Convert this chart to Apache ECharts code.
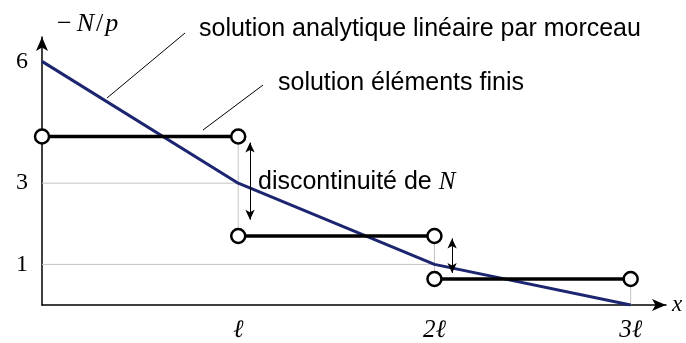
<!DOCTYPE html>
<html>
<head>
<meta charset="utf-8">
<script src="https://cdn.jsdelivr.net/npm/echarts@6/dist/echarts.min.js"></script>
<style>
  html, body { margin: 0; padding: 0; background: #fff; }
  #chart { width: 686px; height: 343px; }
</style>
</head>
<body>
<div id="chart"></div>
<script>
// noeuds des elements, en multiples de l
const xNodes = [0, 1, 2, 3]
// solution analytique lineaire par morceau (-N/p aux noeuds)
const analytic = [6, 3, 1, 0]
// solution elements finis, constante sur chaque element
const feValues = [4.15, 1.7, 0.64]
// graduations
const yTicks = [1, 3, 6]
const xTicks = [1, 2, 3]
const xTickLabels = ['ℓ', '2ℓ', '3ℓ']

const serif = '"Liberation Serif", "DejaVu Serif", serif'
const sans = '"Liberation Sans", Arial, sans-serif'
const navy = '#1c2570'
const grey = '#c4c4c4'

const chart = echarts.init(document.getElementById('chart'))

const series = []

// lignes de rappel grises (horizontales aux valeurs analytiques, verticales aux sauts)
for (let i = 1; i < analytic.length - 1; i++) {
  series.push({
    type: 'line', silent: true, symbol: 'none', z: 1,
    lineStyle: { color: grey, width: 1 },
    data: [[xNodes[0], analytic[i]], [xNodes[i], analytic[i]]]
  })
}
for (let i = 0; i < feValues.length; i++) {
  const below = i + 1 < feValues.length ? feValues[i + 1] : 0
  series.push({
    type: 'line', silent: true, symbol: 'none', z: 1,
    lineStyle: { color: grey, width: 1 },
    data: [[xNodes[i + 1], feValues[i]], [xNodes[i + 1], below]]
  })
}

// solution analytique
series.push({
  type: 'line', symbol: 'none', z: 3,
  lineStyle: { color: navy, width: 3 },
  data: xNodes.map((x, i) => [x, analytic[i]]),
  markLine: {
    silent: true,
    symbol: ['arrow', 'arrow'],
    symbolSize: [7, 10],
    label: { show: false },
    lineStyle: { color: '#000', width: 1, type: 'solid' },
    data: [
      [{ coord: [1.06, 4.0] }, { coord: [1.06, 2.1] }],
      [{ coord: [2.09, 1.64] }, { coord: [2.09, 0.79] }]
    ]
  }
})

// solution elements finis
feValues.forEach((v, i) => {
  series.push({
    type: 'line', z: 4,
    symbol: 'circle', symbolSize: 14,
    itemStyle: { color: '#fff', borderColor: '#000', borderWidth: 2.5 },
    lineStyle: { color: '#000', width: 3.5 },
    data: [[xNodes[i], v], [xNodes[i + 1], v]]
  })
})

const option = {
  animation: false,
  grid: { left: 42, right: 20, top: 37, bottom: 37 },
  xAxis: {
    type: 'value', min: 0, max: 3.18,
    axisLine: {
      symbol: ['none', 'arrow'], symbolSize: [9, 14],
      lineStyle: { color: '#000', width: 1.5 }
    },
    axisTick: { show: false },
    splitLine: { show: false },
    axisLabel: {
      customValues: xTicks,
      formatter: v => xTickLabels[xTicks.indexOf(v)],
      margin: 13, color: '#000', fontFamily: serif, fontStyle: 'italic', fontSize: 25
    },
    name: 'x', nameGap: 6,
    nameTextStyle: { color: '#000', fontFamily: serif, fontStyle: 'italic', fontSize: 23 }
  },
  yAxis: {
    type: 'value', min: 0, max: 6.6,
    axisLine: {
      symbol: ['none', 'arrow'], symbolSize: [9, 14],
      lineStyle: { color: '#000', width: 1.5 }
    },
    axisTick: { show: false },
    splitLine: { show: false },
    axisLabel: {
      customValues: yTicks,
      margin: 14, color: '#000', fontFamily: serif, fontSize: 24
    }
  },
  graphic: [
    {
      type: 'text', x: 57, y: 24,
      style: {
        text: '{m|−}{i|N}{r|/}{i|p}',
        verticalAlign: 'middle',
        rich: {
          m: { fontFamily: serif, fontSize: 26, fill: '#000', padding: [0, 5, 0, 0] },
          r: { fontFamily: serif, fontSize: 26, fill: '#000', padding: [0, 2, 0, 2] },
          i: { fontFamily: serif, fontSize: 26, fontStyle: 'italic', fill: '#000' }
        }
      }
    },
    {
      type: 'text', x: 199, y: 29,
      style: { text: 'solution analytique linéaire par morceau', font: '25px ' + sans, fill: '#000', verticalAlign: 'middle' }
    },
    { type: 'line', shape: { x1: 185, y1: 33, x2: 107, y2: 98 }, style: { stroke: '#000', lineWidth: 1 } },
    {
      type: 'text', x: 278, y: 83,
      style: { text: 'solution éléments finis', font: '25px ' + sans, fill: '#000', verticalAlign: 'middle' }
    },
    { type: 'line', shape: { x1: 263, y1: 85, x2: 203, y2: 130 }, style: { stroke: '#000', lineWidth: 1 } },
    {
      type: 'text', x: 258, y: 182,
      style: {
        text: '{s|discontinuité de }{i|N}',
        verticalAlign: 'middle',
        rich: {
          s: { fontFamily: sans, fontSize: 25, fill: '#000' },
          i: { fontFamily: serif, fontSize: 25, fontStyle: 'italic', fill: '#000' }
        }
      }
    }
  ],
  series: series
}

option && chart.setOption(option)
</script>
</body>
</html>
